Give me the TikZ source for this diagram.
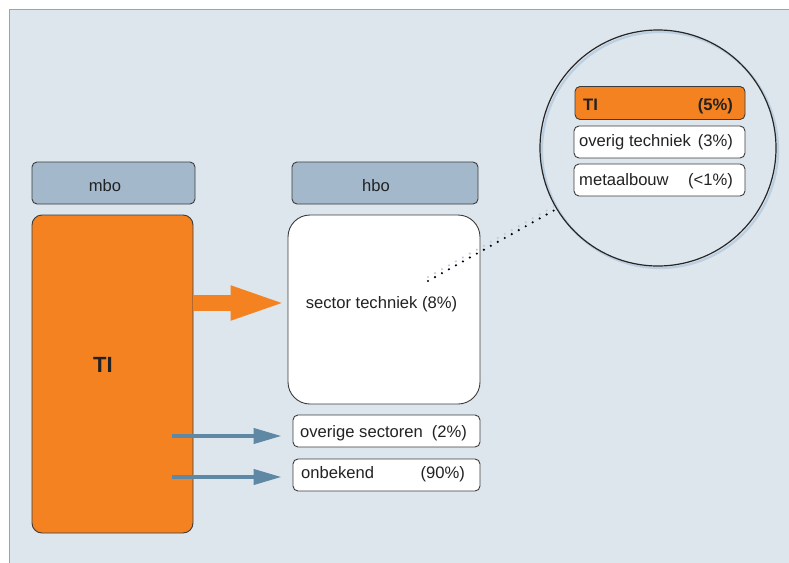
\documentclass[tikz,border=0pt]{standalone}
\usepackage{fontspec}
\setmainfont{Liberation Sans}
\usetikzlibrary{arrows.meta}
\definecolor{bg}{HTML}{DDE5ED}
\definecolor{panelline}{HTML}{8EA7BA}
\definecolor{hdrfill}{HTML}{A3B8CB}
\definecolor{boxline}{HTML}{3C3C3C}
\definecolor{orng}{HTML}{F58220}
\definecolor{bluearrow}{HTML}{5E88A3}
\definecolor{txt}{HTML}{222222}
\definecolor{shadowblue}{HTML}{BCCFE0}
\begin{document}
\begin{tikzpicture}[x=1pt,y=-1pt,
  box/.style={draw=boxline, line width=0.9pt, rounded corners=5pt, inner sep=0pt},
  hdr/.style={box, fill=hdrfill, minimum height=42pt},
  wbox/.style={box, fill=white, minimum height=32pt},
  lbl/.style={font=\fontsize{16.6}{19}\selectfont, text=txt, inner sep=0pt},
  blbl/.style={lbl, font=\fontsize{16.6}{19}\selectfont\bfseries},
  fatarrow/.style={orng, line width=16pt, -{Triangle[length=58pt,width=30pt]}},
  thinarrow/.style={bluearrow, line width=4pt, -{Triangle[length=28pt,width=15pt]}}]
\useasboundingbox (0,0) rectangle (789,562);
\fill[white] (0,0) rectangle (789,562);
\filldraw[fill=bg, draw=panelline, line width=1pt] (9,9) rectangle (800,575);
% headers
\node[hdr, minimum width=163pt] (mbo) at (113.5,183) {};
\node[hdr, minimum width=186pt] (hbo) at (385,183) {};
\node[lbl, anchor=base] (mbot) at (105,191.5) {mbo};
\node[lbl, anchor=base] (hbot) at (376,191.5) {hbo};
% main boxes
\node[box, fill=orng, rounded corners=10pt, minimum width=161pt, minimum height=318pt] (TI) at (112.5,374) {};
\node[blbl, font=\fontsize{22}{26}\selectfont\bfseries, anchor=base] (TIt) at (103,372.3) {TI};
\node[box, fill=white, rounded corners=22pt, minimum width=192pt, minimum height=189pt] (sector) at (384,309.5) {};
\node[lbl, anchor=base] (sectort) at (381.5,308) {sector techniek (8\%)};
\node[wbox, minimum width=187pt] (ov) at (386.5,431) {};
\node[lbl, anchor=base west] (ovt1) at (300,437) {overige sectoren};
\node[lbl, anchor=base east] (ovt2) at (467,437) {(2\%)};
\node[wbox, minimum width=187pt] (onb) at (386.5,475) {};
\node[lbl, anchor=base west] (onbt1) at (301,478) {onbekend};
\node[lbl, anchor=base east] (onbt2) at (465,478) {(90\%)};
% arrows
\coordinate (y1) at (0,303);
\coordinate (y2) at (0,436);
\coordinate (y3) at (0,477);
\draw[fatarrow] (TI.east |- y1) -- ([xshift=1pt]sector.west |- y1);
\draw[thinarrow] ([xshift=-21pt]TI.east |- y2) -- ([xshift=-11pt]ov.west |- y2);
\draw[thinarrow] ([xshift=-21pt]TI.east |- y3) -- ([xshift=-11pt]onb.west |- y3);
% zoom circle
\node[circle, draw=shadowblue, line width=2.2pt, minimum size=236pt, inner sep=0pt] (zoomsh) at (660,150) {};
\node[circle, draw=black!85, line width=1.2pt, minimum size=236pt, inner sep=0pt] (zoom) at (658,148) {};
\coordinate (dstart) at (428,281);
\draw[shadowblue, line width=2.4pt, line cap=round, dash pattern=on 0pt off 8pt] ([yshift=4pt]dstart) -- ([yshift=4pt]zoom.-149);
\draw[black, line width=2.4pt, line cap=round, dash pattern=on 0pt off 8pt] (dstart) -- (zoom.-149);
\node[box, fill=orng, minimum width=170pt, minimum height=33pt] (cTI) at (660,103) {};
\node[blbl, anchor=base west] (cTIt1) at (583,110) {TI};
\node[blbl, anchor=base east] (cTIt2) at (733,110) {(5\%)};
\node[wbox, minimum width=171pt] (cov) at (659.5,142) {};
\node[lbl, anchor=base west] (covt) at (579,146) {overig techniek};
\node[lbl, anchor=base east] (covt2) at (733,146) {(3\%)};
\node[wbox, minimum width=171pt] (cmet) at (659.5,180) {};
\node[lbl, anchor=base west] (cmett) at (579,185.5) {metaalbouw};
\node[lbl, anchor=base east] (cmett2) at (733,185.5) {(<1\%)};
\end{tikzpicture}
\end{document}
